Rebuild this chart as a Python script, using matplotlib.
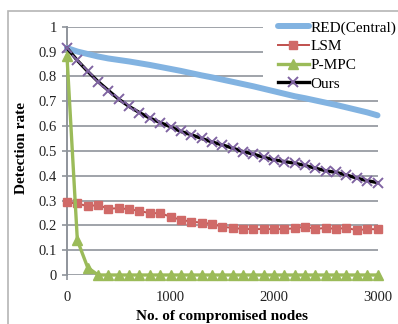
"""
Detection rate versus number of compromised nodes.
"""

import matplotlib
matplotlib.use("Agg")
import matplotlib.pyplot as plt
import matplotlib.ticker as mticker
from matplotlib.patches import Rectangle

NODES = list(range(0, 3001, 100))

RED_CENTRAL = [
    0.914, 0.900, 0.890, 0.880, 0.872, 0.866, 0.860, 0.853, 0.846, 0.838,
    0.830, 0.822, 0.813, 0.804, 0.796, 0.787, 0.778, 0.769, 0.760, 0.750,
    0.740, 0.730, 0.720, 0.712, 0.703, 0.694, 0.685, 0.675, 0.665, 0.655,
    0.643,
]
LSM = [
    0.292, 0.288, 0.277, 0.282, 0.267, 0.269, 0.265, 0.258, 0.249, 0.249,
    0.235, 0.222, 0.215, 0.211, 0.206, 0.194, 0.190, 0.185, 0.185, 0.185,
    0.185, 0.185, 0.188, 0.195, 0.185, 0.190, 0.185, 0.190, 0.180, 0.185,
    0.184,
]
P_MPC = [
    0.880, 0.140, 0.030, 0.0, 0.0, 0.0, 0.0, 0.0, 0.0, 0.0,
    0.0, 0.0, 0.0, 0.0, 0.0, 0.0, 0.0, 0.0, 0.0, 0.0,
    0.0, 0.0, 0.0, 0.0, 0.0, 0.0, 0.0, 0.0, 0.0, 0.0,
    0.0,
]
OURS = [
    0.914, 0.864, 0.820, 0.779, 0.743, 0.708, 0.679, 0.654, 0.632, 0.614,
    0.597, 0.578, 0.565, 0.550, 0.536, 0.524, 0.511, 0.497, 0.487, 0.474,
    0.464, 0.457, 0.450, 0.441, 0.430, 0.420, 0.413, 0.403, 0.390, 0.380,
    0.372,
]
LABELS = ["RED(Central)", "LSM", "P-MPC", "Ours"]
X_TICKS = [0, 1000, 2000, 3000]
Y_TICKS = [0, 0.1, 0.2, 0.3, 0.4, 0.5, 0.6, 0.7, 0.8, 0.9, 1.0]

W, H = 398, 324
GRAY = "#8f949b"

plt.rcParams["font.family"] = ["Liberation Serif", "DejaVu Serif"]

fig = plt.figure(figsize=(W / 100, H / 100), dpi=100)
ax = fig.add_axes([67 / W, 49 / H, 310.5 / W, 248.3 / H])

ax.plot(NODES, RED_CENTRAL, color="#82b3e1", lw=4.3,
        solid_capstyle="round", clip_on=False, zorder=3)
ax.plot(NODES, LSM, color="#c0504d", lw=1.4, marker="s", ms=5.8,
        mfc="#d06a68", mec="#d06a68", clip_on=False, zorder=4)
ax.plot(NODES, P_MPC, color="#9bbb59", lw=2.4, marker="^", ms=6.5,
        mfc="#9bbb59", mec="#9bbb59", clip_on=False, zorder=5)
ax.plot(NODES, OURS, color="black", lw=2.4, marker="x", ms=7,
        mec="#8064a2", mew=1.4, clip_on=False, zorder=6)

ax.set_xlim(0, 3000)
ax.set_ylim(0, 1)
ax.xaxis.set_major_locator(mticker.FixedLocator(X_TICKS))
ax.yaxis.set_major_locator(mticker.FixedLocator(Y_TICKS))
ax.yaxis.set_major_formatter(mticker.FuncFormatter(lambda v, p: f"{v:g}"))

ax.grid(True, axis="y", color=GRAY, lw=1.2)
ax.set_axisbelow(True)
for side in ["top", "right", "bottom"]:
    ax.spines[side].set_visible(False)
ax.spines["left"].set_color(GRAY)
ax.spines["left"].set_linewidth(1.4)

ax.tick_params(axis="y", length=3.6, width=1.2, color=GRAY, pad=3.5,
               labelsize=10.5, labelcolor="#222222")
ax.tick_params(axis="x", length=3.6, width=1.2, color=GRAY, pad=8,
               labelsize=10.5, labelcolor="#222222")

ax.set_xlabel("No. of compromised nodes", fontsize=11, fontweight="bold")
ax.xaxis.label.set_va("center")
ax.xaxis.set_label_coords(0.5, -0.168)
ax.set_ylabel("Detection rate", fontsize=11, fontweight="bold")
ax.yaxis.label.set_va("center")
ax.yaxis.set_label_coords(-0.148, 0.51)

# white legend area hiding the gridlines behind it
ax.add_patch(
    Rectangle((263 / W, 1 - 90 / H), 0.5, 78 / H, transform=fig.transFigure,
              facecolor="white", edgecolor="none", clip_on=False, zorder=1)
)
ax.legend(
    LABELS,
    loc="upper left",
    bbox_to_anchor=(278 / W, 1 - 21 / H),
    bbox_transform=fig.transFigure,
    fontsize=11,
    handlelength=2.0,
    handletextpad=0.15,
    labelspacing=0.32,
    borderpad=0,
    borderaxespad=0,
    frameon=False,
)

# chart area border
fig.patches.append(
    Rectangle((8 / W, -0.1), 1.2, 1.1 - 11 / H, transform=fig.transFigure,
              fill=False, edgecolor="#b5b5b5", lw=1.2, clip_on=False)
)

fig.savefig("out.png", dpi=100)
